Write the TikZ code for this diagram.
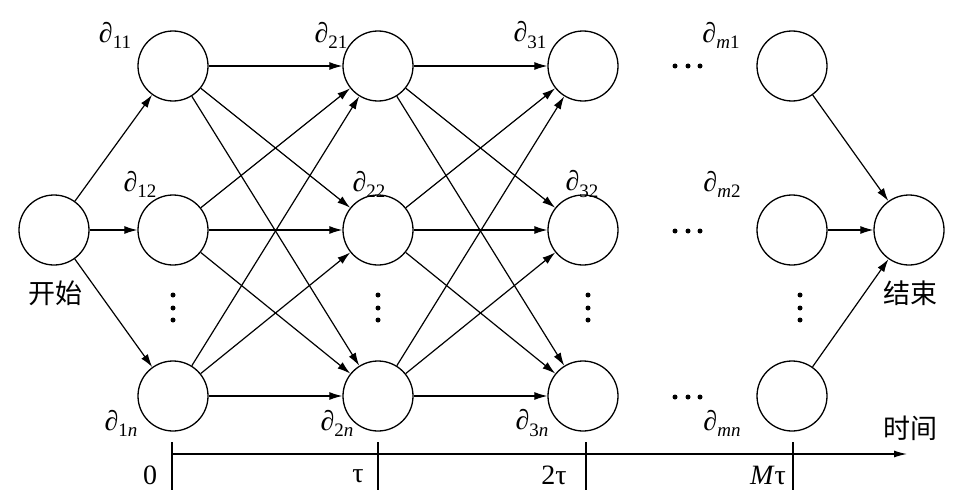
\documentclass[tikz,border=0pt]{standalone}
\usepackage{fontspec}
\setmainfont{Liberation Serif}
\newfontfamily\cjk{Noto Sans CJK SC}
\usetikzlibrary{arrows.meta}
\newcommand\pdl[1]{∂\raisebox{-0.22em}{\fontsize{19}{19}\selectfont #1}}
\begin{document}
\begin{tikzpicture}[x=1pt,y=-1pt,
  st/.style={circle, draw, line width=1.3pt, minimum size=70pt, inner sep=0pt},
  ed/.style={line width=1.2pt, -{Latex[length=13pt,width=8pt]}},
  lab/.style={font=\fontsize{28}{32}\selectfont, inner sep=0pt},
  cj/.style={font=\cjk\fontsize{27}{30}\selectfont, inner sep=0pt},
  tk/.style={line width=1.2pt},
  dot/.style={circle, fill, inner sep=0pt, minimum size=5pt}]
\useasboundingbox (0,0) rectangle (979,503);
% nodes
\node[st] (s) at (54,230) {};
\node[st] (c11) at (173,66) {};
\node[st] (c12) at (173,230) {};
\node[st] (c1n) at (173,396) {};
\node[st] (c21) at (378,66) {};
\node[st] (c22) at (378,230) {};
\node[st] (c2n) at (378,396) {};
\node[st] (c31) at (583,66) {};
\node[st] (c32) at (583,230) {};
\node[st] (c3n) at (583,396) {};
\node[st] (cm1) at (792,66) {};
\node[st] (cm2) at (792,230) {};
\node[st] (cmn) at (792,396) {};
\node[st] (e) at (909,230) {};
% labels
\node[lab] (l11) at (115,35) {\pdl{11}};
\node[lab] (l21) at (331,35) {\pdl{21}};
\node[lab] (l31) at (530,35) {\pdl{31}};
\node[lab] (lm1) at (721,35) {\pdl{\textit{m}1}};
\node[lab] (l12) at (140,184) {\pdl{12}};
\node[lab] (l22) at (369,184) {\pdl{22}};
\node[lab] (l32) at (582,184) {\pdl{32}};
\node[lab] (lm2) at (722,184) {\pdl{\textit{m}2}};
\node[lab] (l1n) at (121,423) {\pdl{1\textit{n}}};
\node[lab] (l2n) at (337,423) {\pdl{2\textit{n}}};
\node[lab] (l3n) at (532,423) {\pdl{3\textit{n}}};
\node[lab] (lmn) at (722,423) {\pdl{\textit{mn}}};
\node[cj] (ks) at (55,293) {开始};
\node[cj] (js) at (910,293) {结束};
\node[cj] (sj) at (910,428) {时间};
% dots
\foreach \x/\y [count=\k] in {675/66,688/66,700/66,675/231,688/231,700/231,675/397,688/397,700/397}
  \node[dot] (h\k) at (\x,\y) {};
\foreach \x [count=\c] in {173,378,588,800}
  \foreach \y [count=\r] in {295,308,320}
    \node[dot] (v\c\r) at (\x,\y) {};
% edges
\foreach \a in {11,12,1n} \draw[ed] (s) -- (c\a);
\foreach \i/\j in {1/2,2/3}
  \foreach \a in {1,2,n}
    \foreach \b in {1,2,n}
      \draw[ed] (c\i\a) -- (c\j\b);
\foreach \a in {m1,m2,mn} \draw[ed] (c\a) -- (e);
% axis
\coordinate (a0) at (172,454);
\coordinate (a1) at (907,454);
\draw[tk, -{Latex[length=13pt,width=7pt]}] (a0) -- (a1);
\foreach \x [count=\k] in {172,378,586,793}
  \draw[tk] (\x,442) coordinate (t\k a) -- (\x,490) coordinate (t\k b);
\node[lab] (z0) at (150,475) {0};
\node[lab] (z1) at (358,476) {τ};
\node[lab] (z2) at (554,475) {2τ};
\node[lab] (z3) at (768,475) {\textit{M}τ};
\end{tikzpicture}
\end{document}
